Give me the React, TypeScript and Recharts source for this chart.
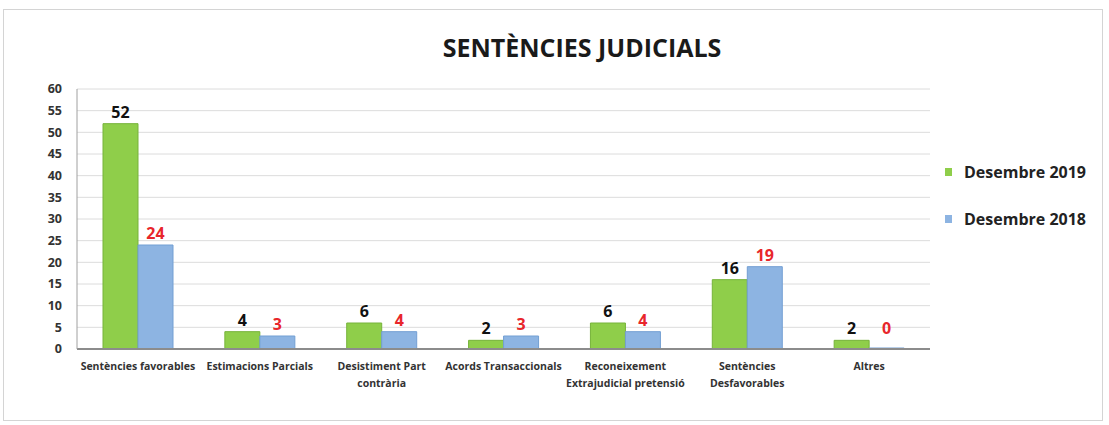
import React from 'react';
import { BarChart, Bar, XAxis, YAxis, CartesianGrid, LabelList } from 'recharts';

const categories = [
  'Sentències favorables',
  'Estimacions Parcials',
  'Desistiment Part\ncontrària',
  'Acords Transaccionals',
  'Reconeixement\nExtrajudicial pretensió',
  'Sentències\nDesfavorables',
  'Altres',
];
const values2019 = [52, 4, 6, 2, 6, 16, 2];
const values2018 = [24, 3, 4, 3, 4, 19, 0];
const yTicks = [0, 5, 10, 15, 20, 25, 30, 35, 40, 45, 50, 55, 60];

const data = categories.map((name, i) => ({
  name,
  d2019: values2019[i],
  d2018: values2018[i],
}));

const font = 'Open Sans, DejaVu Sans, sans-serif';

const CategoryTick = (props: any) => {
  const { x, y, payload } = props;
  const lines = String(payload.value).split('\n');
  return (
    <text x={x} y={y} textAnchor="middle" fontSize={10.5} fontWeight={700} fill="#333" fontFamily={font}>
      {lines.map((l, i) => (
        <tspan key={i} x={x} dy={i === 0 ? 13 : 17}>{l}</tspan>
      ))}
    </text>
  );
};

// value label, zero values sit a bit higher like in the source
const valueLabel = (color: string) => (props: any) => {
  const { x, y, width, value } = props;
  const lift = value === 0 ? 14 : 6;
  return (
    <text x={x + width / 2} y={y - lift} textAnchor="middle" fill={color} fontSize={16} fontWeight={700} fontFamily={font}>
      {value}
    </text>
  );
};

const LegendBox = () => (
  <div style={{ position: 'absolute', left: 945, top: 161, fontFamily: font, fontSize: 16, fontWeight: 700, color: '#222' }}>
    <div style={{ display: 'flex', alignItems: 'center', height: 22 }}>
      <span style={{ width: 7, height: 8, background: '#8fce4a', marginRight: 12, display: 'inline-block' }} />
      Desembre 2019
    </div>
    <div style={{ display: 'flex', alignItems: 'center', height: 22, marginTop: 25 }}>
      <span style={{ width: 7, height: 8, background: '#8db4e2', marginRight: 12, display: 'inline-block' }} />
      Desembre 2018
    </div>
  </div>
);

export default function App() {
  return (
    <div style={{ position: 'absolute', left: 0, top: 0, width: 1109, height: 425, background: '#fff' }}>
      <div style={{ position: 'absolute', left: 3, top: 9, width: 1100, height: 412, border: '1px solid #d4d4d4', boxSizing: 'border-box' }} />
      <div style={{ position: 'absolute', left: 0, top: 30, width: 1164, textAlign: 'center', fontFamily: font, fontSize: 25, fontWeight: 700, color: '#1a1a1a' }}>
        SENTÈNCIES JUDICIALS
      </div>
      <BarChart
        width={1109}
        height={425}
        data={data}
        margin={{ top: 89, right: 179, bottom: 46, left: 40 }}
        barGap={0}
        barCategoryGap="21%"
        style={{ position: 'absolute', left: 0, top: 0 }}
      >
        <CartesianGrid vertical={false} stroke="#dcdcdc" />
        <XAxis
          dataKey="name"
          height={30}
          tick={<CategoryTick />}
          tickLine={false}
          axisLine={{ stroke: '#8c8c8c', strokeWidth: 2 }}
          interval={0}
        />
        <YAxis
          domain={[0, 60]}
          ticks={yTicks}
          interval={0}
          width={37}
          tickLine={false}
          tickSize={0}
          tickMargin={15}
          axisLine={{ stroke: '#a0a0a0' }}
          tick={{ fontSize: 12.5, fontWeight: 700, fill: '#333', fontFamily: font }}
        />
        <Bar dataKey="d2019" name="Desembre 2019" fill="#8fce4a" stroke="#76b33a" strokeWidth={1} barSize={35} minPointSize={1} isAnimationActive={false}>
          <LabelList dataKey="d2019" content={valueLabel('#111')} />
        </Bar>
        <Bar dataKey="d2018" name="Desembre 2018" fill="#8db4e2" stroke="#739fd3" strokeWidth={1} barSize={35} minPointSize={1} isAnimationActive={false}>
          <LabelList dataKey="d2018" content={valueLabel('#e8262b')} />
        </Bar>
      </BarChart>
      <LegendBox />
    </div>
  );
}
